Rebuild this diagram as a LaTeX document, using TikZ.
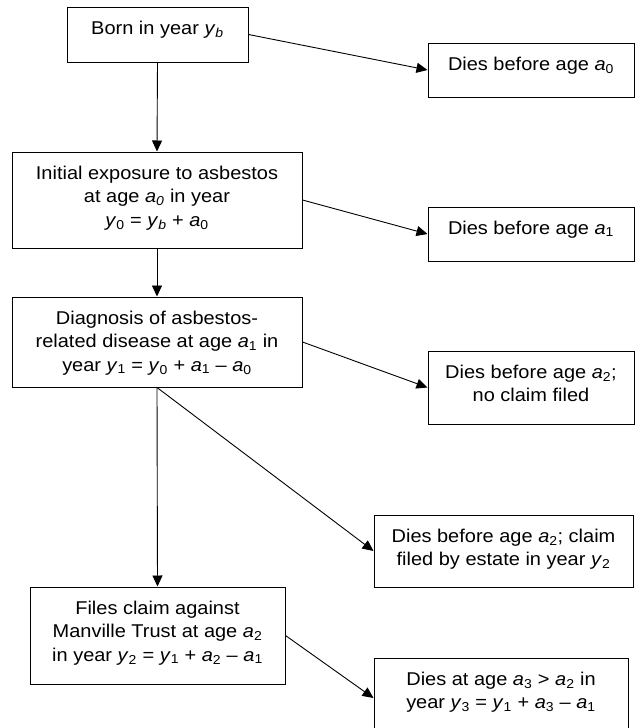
\documentclass[tikz,border=0pt]{standalone}
\usepackage{fontspec}
\setmainfont{Liberation Sans}[FakeStretch=1.08]
\usetikzlibrary{arrows.meta}

\newcommand{\var}[2]{\textit{#1}\textsubscript{#2}}
\newcommand{\stagetext}[3]{\parbox[c][#2][t]{#1}{\centering\rule{0pt}{27pt}#3}}

\begin{document}
\begin{tikzpicture}
  [x=1pt,y=-1pt,every node/.style={draw,line width=1pt,inner sep=0pt,
   font=\fontsize{18.5pt}{23.5pt}\selectfont},
   link/.style={line width=0.9pt,-{Triangle[length=11pt,width=10pt]}}]
  \useasboundingbox (0,0) rectangle (635,728);
  \node (born)   at (157.5,34.5) {\stagetext{181pt}{55pt}{Born in year \var{y}{\textit{b}}}};
  \node (dies0)  at (531,70)     {\stagetext{206pt}{54pt}{Dies before age \var{a}{0}}};
  \node (expo)   at (157,200)    {\stagetext{290pt}{96pt}{Initial exposure to asbestos\\
    at age \var{a}{\textit{0}} in year\\ \var{y}{0} = \var{y}{\textit{b}} + \var{a}{0}}};
  \node (dies1)  at (531,234)    {\stagetext{206pt}{54pt}{Dies before age \var{a}{1}}};
  \node (diag)   at (157,342)    {\stagetext{290pt}{90pt}{Diagnosis of asbestos-\\
    related disease at age \var{a}{1} in\\ year \var{y}{1} = \var{y}{0} + \var{a}{1} -- \var{a}{0}}};
  \node (dies2)  at (531,387.5)  {\stagetext{206pt}{73pt}{Dies before age \var{a}{2};\\ no claim filed}};
  \node (estate) at (503.5,551)  {\stagetext{259pt}{72pt}{Dies before age \var{a}{2}; claim\\
    filed by estate in year \var{y}{2}}};
  \node (files)  at (157.5,635.5) {\stagetext{255pt}{97pt}{Files claim against\\
    Manville Trust at age \var{a}{2}\\ in year \var{y}{2} = \var{y}{1} + \var{a}{2} -- \var{a}{1}}};
  \node (dies3)  at (501,698)    {\stagetext{254pt}{80pt}{Dies at age \var{a}{3} > \var{a}{2} in\\
    year \var{y}{3} = \var{y}{1} + \var{a}{3} -- \var{a}{1}}};
\foreach \from/\to in
{born/dies0, expo/dies1, diag/dies2, files/dies3}
    \draw[link] (\from.east) -- (\to.west);
\foreach \from/\to in
{born/expo, expo/diag, diag/files}
    \draw[link] (\from.south) -- (\to.north);
  \draw[link] (diag.south) -- (estate.west);
\end{tikzpicture}
\end{document}
